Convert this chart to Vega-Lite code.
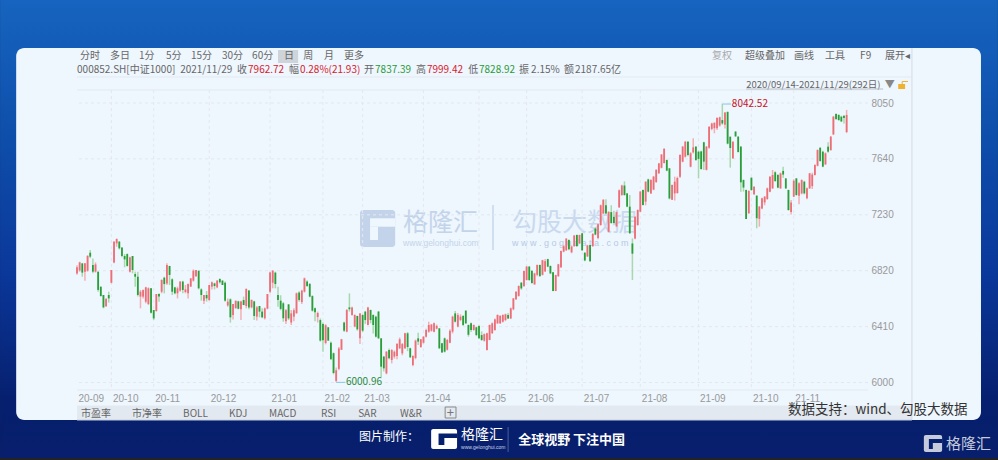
{"$schema":"https://vega.github.io/schema/vega-lite/v6.json","width":791,"height":300,"autosize":"none","padding":{"left":77,"top":90,"right":130,"bottom":70},"background":"#232323","data":{"values":[{}]},"config":{"view":{"stroke":null},"axis":{"title":null,"grid":false,"domain":false,"ticks":false},"text":{"font":"Noto Sans CJK SC","fontSize":10,"align":"left","baseline":"middle","color":"#666666"}},"datasets":{"months":[{"n":14,"m":"20-10"},{"n":30,"m":"20-11"},{"n":51,"m":"20-12"},{"n":74,"m":"21-01"},{"n":94,"m":"21-02"},{"n":109,"m":"21-03"},{"n":132,"m":"21-04"},{"n":153,"m":"21-05"},{"n":171,"m":"21-06"},{"n":192,"m":"21-07"},{"n":214,"m":"21-08"},{"n":236,"m":"21-09"},{"n":256,"m":"21-10"},{"n":272,"m":"21-11"}],"levels":[{"v":6000},{"v":6410},{"v":6820},{"v":7230},{"v":7640},{"v":8050}],"k":[
{"n":1,"o":6800,"h":6860,"l":6790,"c":6845},{"n":2,"o":6822,"h":6886,"l":6813,"c":6881},{"n":3,"o":6874,"h":6874,"l":6776,"c":6806},{"n":4,"o":6813,"h":6874,"l":6747,"c":6874},{"n":5,"o":6820,"h":6935,"l":6813,"c":6928},{"n":6,"o":6952,"h":6972,"l":6911,"c":6923},{"n":7,"o":6862,"h":6910,"l":6801,"c":6813},{"n":8,"o":6813,"h":6881,"l":6806,"c":6866},{"n":9,"o":6813,"h":6813,"l":6666,"c":6679},{"n":10,"o":6703,"h":6703,"l":6630,"c":6634},
{"n":11,"o":6642,"h":6642,"l":6544,"c":6551},{"n":12,"o":6560,"h":6617,"l":6556,"c":6615},{"n":13,"o":6642,"h":6666,"l":6586,"c":6617},{"n":14,"o":6732,"h":6825,"l":6727,"c":6825},{"n":15,"o":6881,"h":7038,"l":6874,"c":7033},{"n":16,"o":7021,"h":7057,"l":6996,"c":7052},{"n":17,"o":7033,"h":7038,"l":6976,"c":6984},{"n":18,"o":6991,"h":6991,"l":6918,"c":6928},{"n":19,"o":6928,"h":6942,"l":6845,"c":6903},{"n":20,"o":6942,"h":6947,"l":6850,"c":6855},
{"n":21,"o":6813,"h":6923,"l":6806,"c":6918},{"n":22,"o":6928,"h":6928,"l":6801,"c":6825},{"n":23,"o":6796,"h":6813,"l":6703,"c":6776},{"n":24,"o":6776,"h":6813,"l":6630,"c":6642},{"n":25,"o":6630,"h":6679,"l":6544,"c":6666},{"n":26,"o":6630,"h":6683,"l":6617,"c":6678},{"n":27,"o":6593,"h":6703,"l":6581,"c":6698},{"n":28,"o":6576,"h":6698,"l":6568,"c":6691},{"n":29,"o":6691,"h":6691,"l":6507,"c":6512},{"n":30,"o":6532,"h":6532,"l":6459,"c":6470},
{"n":31,"o":6524,"h":6649,"l":6520,"c":6649},{"n":32,"o":6649,"h":6654,"l":6593,"c":6630},{"n":33,"o":6666,"h":6757,"l":6654,"c":6752},{"n":34,"o":6769,"h":6776,"l":6654,"c":6722},{"n":35,"o":6727,"h":6874,"l":6715,"c":6862},{"n":36,"o":6855,"h":6855,"l":6715,"c":6789},{"n":37,"o":6757,"h":6764,"l":6642,"c":6666},{"n":38,"o":6698,"h":6703,"l":6647,"c":6654},{"n":39,"o":6654,"h":6703,"l":6617,"c":6691},{"n":40,"o":6674,"h":6745,"l":6666,"c":6740},
{"n":41,"o":6740,"h":6747,"l":6654,"c":6679},{"n":42,"o":6664,"h":6715,"l":6654,"c":6683},{"n":43,"o":6654,"h":6727,"l":6617,"c":6722},{"n":44,"o":6703,"h":6764,"l":6703,"c":6764},{"n":45,"o":6747,"h":6830,"l":6740,"c":6820},{"n":46,"o":6780,"h":6825,"l":6776,"c":6825},{"n":47,"o":6820,"h":6820,"l":6683,"c":6691},{"n":48,"o":6683,"h":6691,"l":6600,"c":6642},{"n":49,"o":6600,"h":6642,"l":6575,"c":6642},{"n":50,"o":6642,"h":6671,"l":6593,"c":6617},
{"n":51,"o":6605,"h":6715,"l":6600,"c":6715},{"n":52,"o":6703,"h":6740,"l":6683,"c":6735},{"n":53,"o":6727,"h":6732,"l":6683,"c":6708},{"n":54,"o":6698,"h":6752,"l":6691,"c":6747},{"n":55,"o":6759,"h":6764,"l":6727,"c":6735},{"n":56,"o":6747,"h":6752,"l":6715,"c":6715},{"n":57,"o":6732,"h":6740,"l":6593,"c":6600},{"n":58,"o":6565,"h":6617,"l":6556,"c":6593},{"n":59,"o":6610,"h":6617,"l":6439,"c":6478},{"n":60,"o":6495,"h":6576,"l":6463,"c":6576},
{"n":61,"o":6544,"h":6600,"l":6544,"c":6600},{"n":62,"o":6595,"h":6600,"l":6537,"c":6541},{"n":63,"o":6537,"h":6600,"l":6459,"c":6595},{"n":64,"o":6605,"h":6630,"l":6568,"c":6568},{"n":65,"o":6561,"h":6691,"l":6544,"c":6686},{"n":66,"o":6674,"h":6679,"l":6537,"c":6551},{"n":67,"o":6551,"h":6610,"l":6544,"c":6605},{"n":68,"o":6595,"h":6600,"l":6459,"c":6488},{"n":69,"o":6483,"h":6561,"l":6454,"c":6551},{"n":70,"o":6561,"h":6561,"l":6478,"c":6520},
{"n":71,"o":6520,"h":6544,"l":6471,"c":6478},{"n":72,"o":6471,"h":6551,"l":6463,"c":6544},{"n":73,"o":6542,"h":6649,"l":6537,"c":6649},{"n":74,"o":6666,"h":6813,"l":6654,"c":6806},{"n":75,"o":6732,"h":6825,"l":6691,"c":6820},{"n":76,"o":6806,"h":6813,"l":6691,"c":6722},{"n":77,"o":6642,"h":6703,"l":6556,"c":6605},{"n":78,"o":6600,"h":6640,"l":6530,"c":6540},{"n":79,"o":6581,"h":6590,"l":6446,"c":6471},{"n":80,"o":6450,"h":6540,"l":6430,"c":6530},
{"n":81,"o":6573,"h":6575,"l":6458,"c":6470},{"n":82,"o":6440,"h":6532,"l":6422,"c":6507},{"n":83,"o":6483,"h":6544,"l":6450,"c":6530},{"n":84,"o":6507,"h":6660,"l":6507,"c":6654},{"n":85,"o":6660,"h":6670,"l":6593,"c":6605},{"n":86,"o":6590,"h":6680,"l":6575,"c":6674},{"n":87,"o":6666,"h":6770,"l":6660,"c":6764},{"n":88,"o":6740,"h":6750,"l":6700,"c":6708},{"n":89,"o":6723,"h":6730,"l":6625,"c":6630},{"n":90,"o":6634,"h":6640,"l":6520,"c":6527},
{"n":91,"o":6544,"h":6550,"l":6450,"c":6515},{"n":92,"o":6480,"h":6520,"l":6440,"c":6510},{"n":93,"o":6458,"h":6470,"l":6300,"c":6307},{"n":94,"o":6430,"h":6440,"l":6226,"c":6310},{"n":95,"o":6290,"h":6428,"l":6280,"c":6420},{"n":96,"o":6405,"h":6405,"l":6307,"c":6307},{"n":97,"o":6292,"h":6300,"l":6168,"c":6170},{"n":98,"o":6214,"h":6220,"l":6060,"c":6070},{"n":99,"o":6012,"h":6110,"l":6000.96,"c":6090},{"n":100,"o":6100,"h":6260,"l":6090,"c":6250},
{"n":101,"o":6240,"h":6320,"l":6238,"c":6317},{"n":102,"o":6440,"h":6446,"l":6370,"c":6380},{"n":103,"o":6373,"h":6540,"l":6368,"c":6532},{"n":104,"o":6551,"h":6654,"l":6520,"c":6537},{"n":105,"o":6495,"h":6556,"l":6490,"c":6551},{"n":106,"o":6410,"h":6500,"l":6405,"c":6495},{"n":107,"o":6488,"h":6490,"l":6380,"c":6390},{"n":108,"o":6324,"h":6510,"l":6282,"c":6507},{"n":109,"o":6495,"h":6500,"l":6370,"c":6380},{"n":110,"o":6520,"h":6525,"l":6430,"c":6458},
{"n":111,"o":6422,"h":6556,"l":6420,"c":6551},{"n":112,"o":6532,"h":6535,"l":6434,"c":6458},{"n":113,"o":6495,"h":6500,"l":6360,"c":6422},{"n":114,"o":6483,"h":6490,"l":6330,"c":6336},{"n":115,"o":6520,"h":6525,"l":6320,"c":6324},{"n":116,"o":6324,"h":6325,"l":6040,"c":6116},{"n":117,"o":6190,"h":6195,"l":6080,"c":6104},{"n":118,"o":6067,"h":6230,"l":6060,"c":6226},{"n":119,"o":6238,"h":6250,"l":6170,"c":6177},{"n":120,"o":6165,"h":6245,"l":6140,"c":6238},
{"n":121,"o":6190,"h":6235,"l":6175,"c":6226},{"n":122,"o":6194,"h":6290,"l":6170,"c":6282},{"n":123,"o":6251,"h":6330,"l":6245,"c":6317},{"n":124,"o":6214,"h":6290,"l":6200,"c":6282},{"n":125,"o":6251,"h":6365,"l":6245,"c":6361},{"n":126,"o":6361,"h":6370,"l":6230,"c":6260},{"n":127,"o":6251,"h":6255,"l":6180,"c":6185},{"n":128,"o":6128,"h":6200,"l":6120,"c":6194},{"n":129,"o":6180,"h":6315,"l":6170,"c":6307},{"n":130,"o":6324,"h":6365,"l":6275,"c":6300},
{"n":131,"o":6260,"h":6320,"l":6255,"c":6317},{"n":132,"o":6292,"h":6340,"l":6285,"c":6336},{"n":133,"o":6336,"h":6395,"l":6330,"c":6385},{"n":134,"o":6373,"h":6445,"l":6365,"c":6422},{"n":135,"o":6380,"h":6430,"l":6373,"c":6425},{"n":136,"o":6373,"h":6440,"l":6368,"c":6434},{"n":137,"o":6395,"h":6425,"l":6390,"c":6415},{"n":138,"o":6397,"h":6400,"l":6245,"c":6251},{"n":139,"o":6287,"h":6290,"l":6218,"c":6220},{"n":140,"o":6324,"h":6330,"l":6220,"c":6226},
{"n":141,"o":6240,"h":6320,"l":6235,"c":6312},{"n":142,"o":6292,"h":6390,"l":6288,"c":6380},{"n":143,"o":6373,"h":6490,"l":6360,"c":6483},{"n":144,"o":6507,"h":6525,"l":6440,"c":6446},{"n":145,"o":6410,"h":6510,"l":6405,"c":6495},{"n":146,"o":6458,"h":6500,"l":6450,"c":6483},{"n":147,"o":6488,"h":6495,"l":6415,"c":6422},{"n":148,"o":6527,"h":6530,"l":6430,"c":6434},{"n":149,"o":6422,"h":6425,"l":6336,"c":6350},{"n":150,"o":6434,"h":6440,"l":6370,"c":6385},
{"n":151,"o":6385,"h":6425,"l":6380,"c":6422},{"n":152,"o":6405,"h":6408,"l":6340,"c":6348},{"n":153,"o":6415,"h":6420,"l":6320,"c":6324},{"n":154,"o":6348,"h":6375,"l":6305,"c":6312},{"n":155,"o":6307,"h":6360,"l":6300,"c":6355},{"n":156,"o":6238,"h":6365,"l":6235,"c":6361},{"n":157,"o":6312,"h":6425,"l":6310,"c":6422},{"n":158,"o":6361,"h":6440,"l":6358,"c":6434},{"n":159,"o":6385,"h":6470,"l":6380,"c":6463},{"n":160,"o":6434,"h":6500,"l":6430,"c":6495},
{"n":161,"o":6434,"h":6495,"l":6430,"c":6488},{"n":162,"o":6446,"h":6500,"l":6440,"c":6495},{"n":163,"o":6458,"h":6505,"l":6450,"c":6500},{"n":164,"o":6495,"h":6510,"l":6465,"c":6470},{"n":165,"o":6470,"h":6550,"l":6465,"c":6544},{"n":166,"o":6537,"h":6620,"l":6530,"c":6617},{"n":167,"o":6610,"h":6670,"l":6605,"c":6666},{"n":168,"o":6635,"h":6712,"l":6630,"c":6708},{"n":169,"o":6732,"h":6737,"l":6680,"c":6690},{"n":170,"o":6708,"h":6820,"l":6700,"c":6818},
{"n":171,"o":6752,"h":6855,"l":6748,"c":6850},{"n":172,"o":6850,"h":6855,"l":6745,"c":6752},{"n":173,"o":6820,"h":6822,"l":6725,"c":6730},{"n":174,"o":6720,"h":6805,"l":6715,"c":6800},{"n":175,"o":6790,"h":6866,"l":6780,"c":6862},{"n":176,"o":6862,"h":6866,"l":6775,"c":6780},{"n":177,"o":6790,"h":6900,"l":6785,"c":6897},{"n":178,"o":6815,"h":6905,"l":6810,"c":6890},{"n":179,"o":6905,"h":6908,"l":6845,"c":6850},{"n":180,"o":6855,"h":6858,"l":6795,"c":6800},
{"n":181,"o":6808,"h":6810,"l":6670,"c":6672},{"n":182,"o":6672,"h":6790,"l":6670,"c":6788},{"n":183,"o":6780,"h":6870,"l":6775,"c":6867},{"n":184,"o":6845,"h":6968,"l":6840,"c":6965},{"n":185,"o":6960,"h":7010,"l":6955,"c":7000},{"n":186,"o":6970,"h":7060,"l":6965,"c":7055},{"n":187,"o":7045,"h":7050,"l":6970,"c":6977},{"n":188,"o":6955,"h":7005,"l":6948,"c":6998},{"n":189,"o":7000,"h":7082,"l":6995,"c":7078},{"n":190,"o":7082,"h":7085,"l":6995,"c":7000},
{"n":191,"o":7020,"h":7085,"l":7015,"c":7082},{"n":192,"o":7094,"h":7098,"l":6965,"c":6970},{"n":193,"o":6952,"h":6955,"l":6890,"c":6895},{"n":194,"o":6925,"h":7010,"l":6920,"c":7005},{"n":195,"o":7008,"h":7010,"l":6885,"c":6890},{"n":196,"o":7000,"h":7095,"l":6995,"c":7090},{"n":197,"o":7130,"h":7140,"l":7080,"c":7085},{"n":198,"o":7060,"h":7165,"l":7050,"c":7160},{"n":199,"o":7155,"h":7305,"l":7150,"c":7300},{"n":200,"o":7240,"h":7345,"l":7235,"c":7340},
{"n":201,"o":7300,"h":7345,"l":7235,"c":7240},{"n":202,"o":7105,"h":7255,"l":7100,"c":7252},{"n":203,"o":7250,"h":7300,"l":7165,"c":7170},{"n":204,"o":7215,"h":7260,"l":7165,"c":7170},{"n":205,"o":7145,"h":7255,"l":7140,"c":7250},{"n":206,"o":7285,"h":7415,"l":7280,"c":7410},{"n":207,"o":7375,"h":7450,"l":7370,"c":7445},{"n":208,"o":7445,"h":7475,"l":7370,"c":7375},{"n":209,"o":7387,"h":7390,"l":7285,"c":7290},{"n":210,"o":7290,"h":7375,"l":7090,"c":7095},
{"n":211,"o":7020,"h":7057,"l":6752,"c":6945},{"n":212,"o":7057,"h":7220,"l":7050,"c":7215},{"n":213,"o":7155,"h":7270,"l":7150,"c":7265},{"n":214,"o":7253,"h":7405,"l":7250,"c":7400},{"n":215,"o":7412,"h":7415,"l":7298,"c":7302},{"n":216,"o":7327,"h":7476,"l":7300,"c":7473},{"n":217,"o":7490,"h":7495,"l":7395,"c":7400},{"n":218,"o":7387,"h":7490,"l":7385,"c":7485},{"n":219,"o":7415,"h":7515,"l":7410,"c":7510},{"n":220,"o":7470,"h":7565,"l":7465,"c":7560},
{"n":221,"o":7535,"h":7610,"l":7530,"c":7607},{"n":222,"o":7575,"h":7676,"l":7571,"c":7672},{"n":223,"o":7610,"h":7717,"l":7607,"c":7715},{"n":224,"o":7632,"h":7635,"l":7550,"c":7554},{"n":225,"o":7571,"h":7573,"l":7343,"c":7350},{"n":226,"o":7340,"h":7452,"l":7338,"c":7448},{"n":227,"o":7387,"h":7510,"l":7335,"c":7473},{"n":228,"o":7390,"h":7510,"l":7385,"c":7500},{"n":229,"o":7510,"h":7675,"l":7500,"c":7669},{"n":230,"o":7620,"h":7735,"l":7615,"c":7730},
{"n":231,"o":7656,"h":7772,"l":7650,"c":7766},{"n":232,"o":7766,"h":7772,"l":7660,"c":7669},{"n":233,"o":7583,"h":7690,"l":7578,"c":7681},{"n":234,"o":7688,"h":7791,"l":7680,"c":7725},{"n":235,"o":7730,"h":7735,"l":7625,"c":7632},{"n":236,"o":7693,"h":7700,"l":7497,"c":7640},{"n":237,"o":7695,"h":7700,"l":7560,"c":7566},{"n":238,"o":7762,"h":7766,"l":7559,"c":7620},{"n":239,"o":7560,"h":7735,"l":7555,"c":7730},{"n":240,"o":7722,"h":7880,"l":7715,"c":7876},
{"n":241,"o":7860,"h":7905,"l":7850,"c":7900},{"n":242,"o":7865,"h":7908,"l":7828,"c":7905},{"n":243,"o":7865,"h":7945,"l":7852,"c":7940},{"n":244,"o":7885,"h":7950,"l":7876,"c":7945},{"n":245,"o":7925,"h":8042.52,"l":7890,"c":7900},{"n":246,"o":7890,"h":7982,"l":7864,"c":7980},{"n":247,"o":7985,"h":7987,"l":7747,"c":7752},{"n":248,"o":7803,"h":7803,"l":7576,"c":7720},{"n":249,"o":7645,"h":7770,"l":7639,"c":7766},{"n":250,"o":7840,"h":7845,"l":7803,"c":7805},
{"n":251,"o":7803,"h":7808,"l":7688,"c":7690},{"n":252,"o":7730,"h":7735,"l":7400,"c":7468},{"n":253,"o":7485,"h":7490,"l":7400,"c":7430},{"n":254,"o":7412,"h":7415,"l":7199,"c":7199},{"n":255,"o":7241,"h":7410,"l":7238,"c":7405},{"n":256,"o":7502,"h":7505,"l":7405,"c":7412},{"n":257,"o":7380,"h":7440,"l":7375,"c":7436},{"n":258,"o":7370,"h":7375,"l":7131,"c":7205},{"n":259,"o":7200,"h":7295,"l":7143,"c":7290},{"n":260,"o":7277,"h":7355,"l":7270,"c":7351},
{"n":261,"o":7321,"h":7368,"l":7300,"c":7363},{"n":262,"o":7346,"h":7430,"l":7340,"c":7424},{"n":263,"o":7400,"h":7515,"l":7395,"c":7510},{"n":264,"o":7424,"h":7559,"l":7420,"c":7522},{"n":265,"o":7542,"h":7550,"l":7470,"c":7478},{"n":266,"o":7522,"h":7530,"l":7425,"c":7429},{"n":267,"o":7424,"h":7540,"l":7420,"c":7534},{"n":268,"o":7552,"h":7583,"l":7502,"c":7525},{"n":269,"o":7497,"h":7500,"l":7420,"c":7424},{"n":270,"o":7412,"h":7415,"l":7260,"c":7265},
{"n":271,"o":7250,"h":7339,"l":7233,"c":7320},{"n":272,"o":7363,"h":7490,"l":7360,"c":7480},{"n":273,"o":7497,"h":7500,"l":7370,"c":7375},{"n":274,"o":7370,"h":7468,"l":7307,"c":7461},{"n":275,"o":7387,"h":7490,"l":7380,"c":7485},{"n":276,"o":7473,"h":7480,"l":7380,"c":7387},{"n":277,"o":7351,"h":7430,"l":7345,"c":7424},{"n":278,"o":7424,"h":7538,"l":7420,"c":7534},{"n":279,"o":7440,"h":7538,"l":7420,"c":7525},{"n":280,"o":7522,"h":7600,"l":7518,"c":7595},
{"n":281,"o":7590,"h":7710,"l":7585,"c":7705},{"n":282,"o":7722,"h":7725,"l":7620,"c":7625},{"n":283,"o":7693,"h":7700,"l":7578,"c":7583},{"n":284,"o":7600,"h":7688,"l":7595,"c":7681},{"n":285,"o":7730,"h":7762,"l":7685,"c":7693},{"n":286,"o":7705,"h":7808,"l":7700,"c":7803},{"n":287,"o":7820,"h":7955,"l":7815,"c":7950},{"n":288,"o":7969,"h":7975,"l":7925,"c":7933},{"n":289,"o":7962,"h":7968,"l":7920,"c":7925},{"n":290,"o":7950,"h":7957,"l":7910,"c":7915},
{"n":291,"o":7957,"h":7960,"l":7900,"c":7940.79},{"n":292,"o":7837.39,"h":7999.42,"l":7828.92,"c":7962.72}
]},"layer":[
{"mark":{"type":"rect","fill":{"gradient":"linear","x1":0,"y1":0,"x2":0,"y2":1,"stops":[{"offset":0,"color":"#1664bf"},{"offset":0.25,"color":"#0f52ae"},{"offset":0.6,"color":"#0a379a"},{"offset":0.88,"color":"#061f6e"},{"offset":1,"color":"#071f6c"}]}},"encoding":{"x":{"datum":-28.09},"x2":{"datum":349.2},"y":{"datum":8805.6},"y2":{"datum":5446.2}}},
{"mark":{"type":"rect","fill":"#eef6fe","cornerRadius":8},"encoding":{"x":{"datum":-22},"x2":{"datum":342.8},"y":{"datum":8453.5},"y2":{"datum":5725}}},
{"mark":{"type":"rect","fill":"#e3e9f0"},"encoding":{"x":{"datum":1.02},"x2":{"datum":316.7},"y":{"datum":5831.3},"y2":{"datum":5725}}},
{"mark":{"type":"rect","fill":"#ced4da"},"encoding":{"x":{"datum":77},"x2":{"datum":84.6},"y":{"datum":8438.9},"y2":{"datum":8343.5}}},
{"mark":{"type":"rule","color":"#d5dbe2","strokeWidth":1},"encoding":{"x":{"datum":316.7},"y":{"datum":8453.5},"y2":{"datum":5725}}},
{"mark":{"type":"rule","color":"#c8d0da","strokeWidth":1},"encoding":{"x":{"datum":1.02},"x2":{"datum":316.7},"y":{"datum":5725}}},
{"mark":{"type":"rule","color":"#e4e9ef","strokeWidth":1},"encoding":{"x":{"datum":1.02},"x2":{"datum":316.7},"y":{"datum":8240.8}}},
{"mark":{"type":"rule","color":"#e4e9ef","strokeWidth":1},"encoding":{"y":{"datum":8145.5}}},
{"mark":{"type":"rule","color":"#e4e9ef","strokeWidth":1},"encoding":{"y":{"datum":5945}}},
{"mark":{"type":"rect","fill":"#c3d4ea","cornerRadius":3},"encoding":{"x":{"datum":108},"x2":{"datum":121.3},"y":{"datum":7265.3},"y2":{"datum":6993.9}}},
{"mark":{"type":"rect","fill":"#eef6fe"},"encoding":{"x":{"datum":111.8},"x2":{"datum":121.3},"y":{"datum":7204.4},"y2":{"datum":7142.8}}},
{"mark":{"type":"rect","fill":"#eef6fe"},"encoding":{"x":{"datum":111.8},"x2":{"datum":114.8},"y":{"datum":7142.8},"y2":{"datum":7045.2}}},
{"mark":{"type":"text","color":"#c3d4ea","fontSize":25},"encoding":{"x":{"datum":124.3},"y":{"datum":7169.9},"text":{"value":"格隆汇"}}},
{"mark":{"type":"text","color":"#c3d4ea","fontSize":8.5,"font":"Liberation Sans"},"encoding":{"x":{"datum":124.3},"y":{"datum":7022},"text":{"value":"www.gelonghui.com"}}},
{"mark":{"type":"rule","color":"#d0dff0","strokeWidth":2},"encoding":{"x":{"datum":158.3},"y":{"datum":7302},"y2":{"datum":6971.8}}},
{"mark":{"type":"text","color":"#c9d9ee","fontSize":25},"encoding":{"x":{"datum":165.5},"y":{"datum":7169.9},"text":{"value":"勾股大数据"}}},
{"mark":{"type":"text","color":"#b5cae5","fontSize":9,"font":"Liberation Sans"},"encoding":{"x":{"datum":165.5},"y":{"datum":7022},"text":{"value":"w w w . g o g u d a t a . c o m"}}},
{"data":{"name":"months"},"mark":{"type":"rule","color":"#e3e8ee","strokeDash":[3,3],"strokeWidth":1},"encoding":{"x":{"field":"n","type":"quantitative"}}},
{"data":{"name":"levels"},"mark":{"type":"rule","color":"#e3e8ee","strokeDash":[3,3],"strokeWidth":1},"encoding":{"y":{"field":"v","type":"quantitative"}}},
{"data":{"name":"k"},"mark":{"type":"rule","strokeWidth":1.5},"encoding":{"x":{"field":"n","type":"quantitative","scale":{"domain":[1,300.08],"nice":false,"zero":false,"padding":0},"axis":{"values":[1,14,30,51,74,94,109,132,153,171,192,214,236,256,272],"labelExpr":"{'1':'20-09','14':'20-10','30':'20-11','51':'20-12','74':'21-01','94':'21-02','109':'21-03','132':'21-04','153':'21-05','171':'21-06','192':'21-07','214':'21-08','236':'21-09','256':'21-10','272':'21-11'}[datum.value]","labelAlign":"left","labelFlush":false,"labelOverlap":false,"labelPadding":3,"labelColor":"#999999","labelFont":"Liberation Sans","labelFontSize":10,"labelOffset":1,"zindex":1}},"y":{"field":"l","type":"quantitative","scale":{"domain":[5945,8145.5],"nice":false,"zero":false,"padding":0},"axis":{"orient":"right","values":[6000,6410,6820,7230,7640,8050],"format":"d","labelFlush":false,"labelOverlap":false,"labelPadding":3,"labelColor":"#999999","labelFont":"Liberation Sans","labelFontSize":10,"zindex":1}},"y2":{"field":"h"},"color":{"condition":{"test":"datum.c>=datum.o","value":"#f3b0b4"},"value":"#a8d9ad"}}},
{"data":{"name":"k"},"mark":{"type":"bar","size":1.8},"encoding":{"x":{"field":"n","type":"quantitative"},"y":{"field":"o","type":"quantitative"},"y2":{"field":"c"},"color":{"condition":{"test":"datum.c>=datum.o","value":"#ec6f78"},"value":"#2a9e3a"}}},
{"mark":{"type":"rule","color":"#86c8e8","strokeWidth":1},"encoding":{"x":{"datum":245},"x2":{"datum":248.3},"y":{"datum":8042.52}}},
{"mark":{"type":"rule","color":"#86c8e8","strokeWidth":1},"encoding":{"x":{"datum":99},"x2":{"datum":102.4},"y":{"datum":6000.96}}},
{"mark":{"type":"text","color":"#c8101e"},"encoding":{"x":{"datum":248.6},"y":{"datum":8042.52},"text":{"value":"8042.52"}}},
{"mark":{"type":"text","color":"#2b8a3a"},"encoding":{"x":{"datum":102.7},"y":{"datum":6000.96},"text":{"value":"6000.96"}}},
{"mark":{"type":"text"},"encoding":{"x":{"datum":2.16},"y":{"datum":8394.9},"text":{"value":"分时"}}},
{"mark":{"type":"text"},"encoding":{"x":{"datum":13.5},"y":{"datum":8394.9},"text":{"value":"多日"}}},
{"mark":{"type":"text"},"encoding":{"x":{"datum":24.46},"y":{"datum":8394.9},"text":{"value":"1分"}}},
{"mark":{"type":"text"},"encoding":{"x":{"datum":34.67},"y":{"datum":8394.9},"text":{"value":"5分"}}},
{"mark":{"type":"text"},"encoding":{"x":{"datum":44.1},"y":{"datum":8394.9},"text":{"value":"15分"}}},
{"mark":{"type":"text"},"encoding":{"x":{"datum":55.8},"y":{"datum":8394.9},"text":{"value":"30分"}}},
{"mark":{"type":"text"},"encoding":{"x":{"datum":67.2},"y":{"datum":8394.9},"text":{"value":"60分"}}},
{"mark":{"type":"text"},"encoding":{"x":{"datum":79.3},"y":{"datum":8394.9},"text":{"value":"日"}}},
{"mark":{"type":"text"},"encoding":{"x":{"datum":86.5},"y":{"datum":8394.9},"text":{"value":"周"}}},
{"mark":{"type":"text"},"encoding":{"x":{"datum":94.4},"y":{"datum":8394.9},"text":{"value":"月"}}},
{"mark":{"type":"text"},"encoding":{"x":{"datum":102},"y":{"datum":8394.9},"text":{"value":"更多"}}},
{"mark":{"type":"text","color":"#aaaaaa"},"encoding":{"x":{"datum":241.1},"y":{"datum":8394.9},"text":{"value":"复权"}}},
{"mark":{"type":"text"},"encoding":{"x":{"datum":253.6},"y":{"datum":8394.9},"text":{"value":"超级叠加"}}},
{"mark":{"type":"text"},"encoding":{"x":{"datum":272.1},"y":{"datum":8394.9},"text":{"value":"画线"}}},
{"mark":{"type":"text"},"encoding":{"x":{"datum":283.8},"y":{"datum":8394.9},"text":{"value":"工具"}}},
{"mark":{"type":"text"},"encoding":{"x":{"datum":297.1},"y":{"datum":8394.9},"text":{"value":"F9"}}},
{"mark":{"type":"text"},"encoding":{"x":{"datum":306.5},"y":{"datum":8394.9},"text":{"value":"展开◂"}}},
{"mark":{"type":"text"},"encoding":{"x":{"datum":1.02},"y":{"datum":8292.2},"text":{"value":"000852.SH[中证1000]"}}},
{"mark":{"type":"text"},"encoding":{"x":{"datum":40},"y":{"datum":8292.2},"text":{"value":"2021/11/29"}}},
{"mark":{"type":"text"},"encoding":{"x":{"datum":61.5},"y":{"datum":8292.2},"text":{"value":"收"}}},
{"mark":{"type":"text","color":"#d8202c"},"encoding":{"x":{"datum":65.67},"y":{"datum":8292.2},"text":{"value":"7962.72"}}},
{"mark":{"type":"text"},"encoding":{"x":{"datum":81.2},"y":{"datum":8292.2},"text":{"value":"幅"}}},
{"mark":{"type":"text","color":"#d8202c"},"encoding":{"x":{"datum":85.3},"y":{"datum":8292.2},"text":{"value":"0.28%(21.93)"}}},
{"mark":{"type":"text"},"encoding":{"x":{"datum":109.5},"y":{"datum":8292.2},"text":{"value":"开"}}},
{"mark":{"type":"text","color":"#2a9a38"},"encoding":{"x":{"datum":113.7},"y":{"datum":8292.2},"text":{"value":"7837.39"}}},
{"mark":{"type":"text"},"encoding":{"x":{"datum":129.2},"y":{"datum":8292.2},"text":{"value":"高"}}},
{"mark":{"type":"text","color":"#d8202c"},"encoding":{"x":{"datum":133.3},"y":{"datum":8292.2},"text":{"value":"7999.42"}}},
{"mark":{"type":"text"},"encoding":{"x":{"datum":148.9},"y":{"datum":8292.2},"text":{"value":"低"}}},
{"mark":{"type":"text","color":"#2a9a38"},"encoding":{"x":{"datum":153},"y":{"datum":8292.2},"text":{"value":"7828.92"}}},
{"mark":{"type":"text"},"encoding":{"x":{"datum":168.1},"y":{"datum":8292.2},"text":{"value":"振"}}},
{"mark":{"type":"text"},"encoding":{"x":{"datum":172.7},"y":{"datum":8292.2},"text":{"value":"2.15%"}}},
{"mark":{"type":"text"},"encoding":{"x":{"datum":185.1},"y":{"datum":8292.2},"text":{"value":"额"}}},
{"mark":{"type":"text"},"encoding":{"x":{"datum":189.3},"y":{"datum":8292.2},"text":{"value":"2187.65亿"}}},
{"mark":{"type":"text","fontSize":9.5},"encoding":{"x":{"datum":254},"y":{"datum":8182.2},"text":{"value":"2020/09/14-2021/11/29(292日)"}}},
{"mark":{"type":"rule","color":"#b9bfc6","strokeWidth":1},"encoding":{"x":{"datum":254},"x2":{"datum":305.8},"y":{"datum":8152.8}}},
{"mark":{"type":"text","color":"#888888"},"encoding":{"x":{"datum":306.4},"y":{"datum":8182.2},"text":{"value":"▼"}}},
{"mark":{"type":"rect","fill":"#f0b030"},"encoding":{"x":{"datum":311.5},"x2":{"datum":314.1},"y":{"datum":8189.5},"y2":{"datum":8152.8}}},
{"mark":{"type":"rule","color":"#f0b030","strokeWidth":1},"encoding":{"x":{"datum":313},"x2":{"datum":315.2},"y":{"datum":8208}}},
{"mark":{"type":"rule","color":"#f0b030","strokeWidth":1},"encoding":{"x":{"datum":313},"y":{"datum":8208},"y2":{"datum":8189.5}}},
{"mark":{"type":"text"},"encoding":{"x":{"datum":2.53},"y":{"datum":5768.9},"text":{"value":"市盈率"}}},
{"mark":{"type":"text"},"encoding":{"x":{"datum":21.8},"y":{"datum":5768.9},"text":{"value":"市净率"}}},
{"mark":{"type":"text"},"encoding":{"x":{"datum":41.1},"y":{"datum":5768.9},"text":{"value":"BOLL"}}},
{"mark":{"type":"text"},"encoding":{"x":{"datum":58.5},"y":{"datum":5768.9},"text":{"value":"KDJ"}}},
{"mark":{"type":"text"},"encoding":{"x":{"datum":73.6},"y":{"datum":5768.9},"text":{"value":"MACD"}}},
{"mark":{"type":"text"},"encoding":{"x":{"datum":93.3},"y":{"datum":5768.9},"text":{"value":"RSI"}}},
{"mark":{"type":"text"},"encoding":{"x":{"datum":107.3},"y":{"datum":5768.9},"text":{"value":"SAR"}}},
{"mark":{"type":"text"},"encoding":{"x":{"datum":123.1},"y":{"datum":5768.9},"text":{"value":"W&R"}}},
{"mark":{"type":"rect","fill":"#e3e9f0","stroke":"#888888","strokeWidth":1},"encoding":{"x":{"datum":140.2},"x2":{"datum":144.3},"y":{"datum":5820.3},"y2":{"datum":5739.6}}},
{"mark":{"type":"text","align":"center","fontSize":13,"color":"#777777"},"encoding":{"x":{"datum":142.2},"y":{"datum":5776},"text":{"value":"+"}}},
{"mark":{"type":"text","color":"#333333","fontSize":13.5},"encoding":{"x":{"datum":269.8},"y":{"datum":5798},"text":{"value":"数据支持：wind、勾股大数据"}}},
{"mark":{"type":"text","color":"#ffffff","fontSize":12},"encoding":{"x":{"datum":107.6},"y":{"datum":5600.2},"text":{"value":"图片制作："}}},
{"mark":{"type":"rect","fill":"#ffffff","cornerRadius":2},"encoding":{"x":{"datum":134.9},"x2":{"datum":144.7},"y":{"datum":5658.9},"y2":{"datum":5512.2}}},
{"mark":{"type":"rect","fill":"#07206e"},"encoding":{"x":{"datum":137.7},"x2":{"datum":144.7},"y":{"datum":5625.9},"y2":{"datum":5592.9}}},
{"mark":{"type":"rect","fill":"#07206e"},"encoding":{"x":{"datum":137.7},"x2":{"datum":139.9},"y":{"datum":5592.9},"y2":{"datum":5541.6}}},
{"mark":{"type":"text","color":"#ffffff","fontSize":14},"encoding":{"x":{"datum":146.2},"y":{"datum":5614.9},"text":{"value":"格隆汇"}}},
{"mark":{"type":"text","color":"#c9d2e8","fontSize":5,"font":"Liberation Sans"},"encoding":{"x":{"datum":146.2},"y":{"datum":5526.9},"text":{"value":"www.gelonghui.com"}}},
{"mark":{"type":"rule","color":"#4a5f9c","strokeWidth":1},"encoding":{"x":{"datum":164},"y":{"datum":5673.6},"y2":{"datum":5490.2}}},
{"mark":{"type":"text","color":"#ffffff","fontSize":13,"fontWeight":"bold"},"encoding":{"x":{"datum":167.8},"y":{"datum":5578.2},"text":{"value":"全球视野 下注中国"}}},
{"mark":{"type":"rect","fill":"#c5cbdc","cornerRadius":2},"encoding":{"x":{"datum":321.2},"x2":{"datum":328.1},"y":{"datum":5614.9},"y2":{"datum":5490.2}}},
{"mark":{"type":"rect","fill":"#07206e"},"encoding":{"x":{"datum":323.1},"x2":{"datum":328.1},"y":{"datum":5585.6},"y2":{"datum":5556.2}}},
{"mark":{"type":"rect","fill":"#07206e"},"encoding":{"x":{"datum":323.1},"x2":{"datum":324.6},"y":{"datum":5556.2},"y2":{"datum":5512.2}}},
{"mark":{"type":"text","color":"#c5cbdc","fontSize":15},"encoding":{"x":{"datum":329.6},"y":{"datum":5548.9},"text":{"value":"格隆汇"}}}
]}
